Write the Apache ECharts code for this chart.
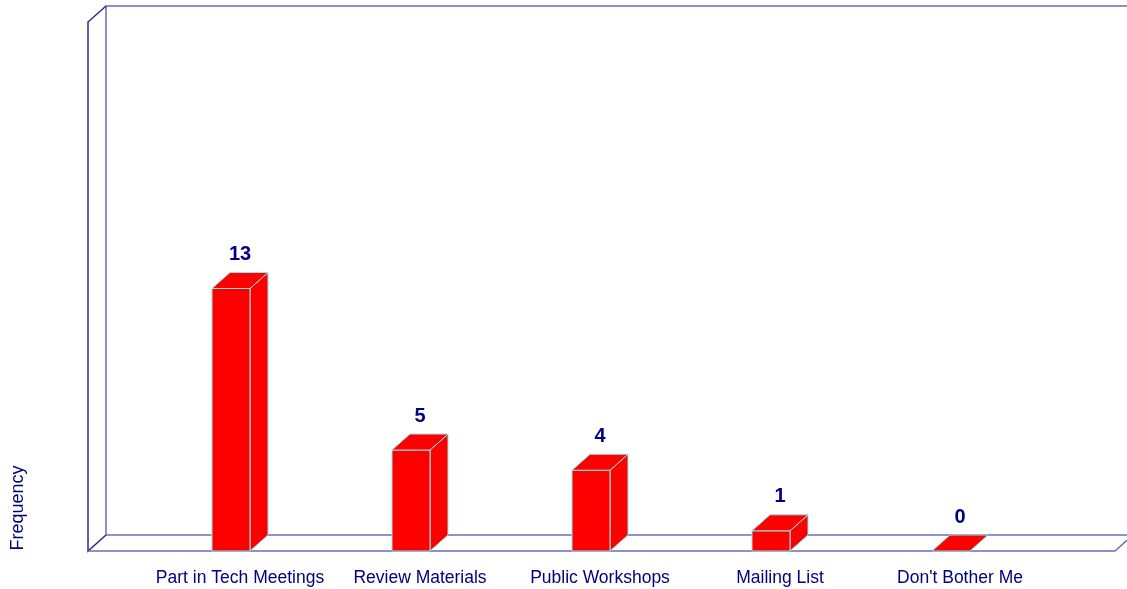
<!DOCTYPE html>
<html><head><meta charset="utf-8">
<script src="https://cdn.jsdelivr.net/npm/echarts@6/dist/echarts.min.js"></script>
<style>html,body{margin:0;padding:0;background:#fff}#c{width:1127px;height:589px}</style>
</head><body><div id="c"></div>
<script>
var categories = ["Part in Tech Meetings", "Review Materials", "Public Workshops", "Mailing List", "Don't Bother Me"];
var frequency = [13, 5, 4, 1, 0];
var yAxisName = "Frequency";

var DX = 18, DY = -16, FW = 38;
var chart = echarts.init(document.getElementById('c'));
var navy = '#000080';
var wallBack = '#6B6BBE';
var wallFront = '#2B2B8F';
var font = 'Liberation Sans, Arial, sans-serif';

chart.setOption({
  backgroundColor: '#ffffff',
  animation: false,
  grid: {left: 150, width: 900, top: 26, bottom: 38},
  xAxis: {
    type: 'category', data: categories,
    axisLine: {show: false}, axisTick: {show: false},
    axisLabel: {color: navy, fontSize: 17.5, fontFamily: font, margin: 18, interval: 0}
  },
  yAxis: {
    type: 'value', min: 0, max: 26,
    axisLine: {show: false}, axisTick: {show: false}, axisLabel: {show: false}, splitLine: {show: false}
  },
  graphic: [
    {type: 'polyline', z: 0, shape: {points: [[106, 535], [106, 6], [1127, 6]]}, style: {stroke: wallBack, lineWidth: 1.5, fill: null}},
    {type: 'polyline', z: 0, shape: {points: [[106, 535], [1127, 535]]}, style: {stroke: wallBack, lineWidth: 1.5, fill: null}},
    {type: 'polyline', z: 0, shape: {points: [[106, 535], [88, 551], [88, 22], [106, 6]]}, style: {stroke: wallFront, lineWidth: 1.5, fill: null}},
    {type: 'polyline', z: 0, shape: {points: [[88, 551], [1115, 551], [1133, 535]]}, style: {stroke: wallBack, lineWidth: 1.5, fill: null}},
    {type: 'text', z: 5, x: 18, y: 508, rotation: Math.PI / 2,
      style: {text: yAxisName, fill: navy, fontSize: 18, fontFamily: font, align: 'center', verticalAlign: 'middle'}}
  ],
  series: [{
    type: 'custom',
    z: 5,
    data: frequency.map(function (v, i) { return [i, v]; }),
    encode: {x: 0, y: 1},
    renderItem: function (params, api) {
      var top = api.coord([api.value(0), api.value(1)]);
      var base = api.coord([api.value(0), 0]);
      var cx = top[0];
      var x0 = cx - DX / 2 - FW / 2, x1 = x0 + FW;
      var yT = top[1], yB = base[1];
      var st = {fill: '#FF0000', stroke: '#8CE6E6', lineWidth: 1};
      var children = [];
      if (yB - yT > 0.5) {
        children.push({type: 'polygon', shape: {points: [[x1, yT], [x1 + DX, yT + DY], [x1 + DX, yB + DY], [x1, yB]]}, style: st});
        children.push({type: 'rect', shape: {x: x0, y: yT, width: FW, height: yB - yT}, style: st});
      }
      children.push({type: 'polygon', shape: {points: [[x0, yT], [x1, yT], [x1 + DX, yT + DY], [x0 + DX, yT + DY]]}, style: st});
      children.push({type: 'text', style: {text: String(api.value(1)), x: cx, y: yT - 34, fill: navy,
        fontSize: 20, fontWeight: 'bold', fontFamily: font, align: 'center', verticalAlign: 'middle'}});
      return {type: 'group', children: children};
    }
  }]
});
</script></body></html>
